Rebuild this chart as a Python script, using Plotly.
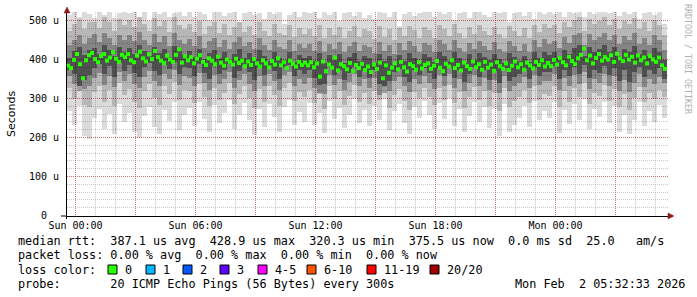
import plotly.graph_objects as go
import pandas as pd

# ---------------- data (microseconds) ----------------
# median RTT, one value every 9 minutes from Sat 23:33
median = [
    384, 378, 399, 414, 388, 352, 398, 411, 417, 401, 393, 409, 414, 397, 405, 419, 402, 394, 412, 406,
    414, 398, 393, 410, 420, 403, 395, 413, 401, 422, 406, 397, 391, 410, 400, 394, 412, 426, 392, 408,
    398, 406, 390, 402, 411, 394, 386, 403, 397, 388, 407, 392, 384, 400, 394, 387, 402, 391, 397, 383,
    395, 386, 401, 390, 382, 398, 390, 380, 396, 387, 403, 385, 393, 378, 397, 389, 382, 394, 386, 392,
    385, 393, 380, 390, 356, 395, 370, 387, 379, 405, 372, 388, 383, 375, 391, 370, 386, 378, 389, 373,
    382, 368, 387, 376, 392, 352, 385, 366, 379, 390, 375, 394, 380, 369, 388, 383, 374, 393, 377, 386,
    390, 376, 384, 396, 379, 370, 389, 382, 398, 378, 386, 372, 392, 383, 376, 395, 380, 388, 374, 394,
    379, 387, 371, 393, 383, 376, 390, 373, 384, 395, 380, 388, 374, 392, 385, 377, 394, 386, 398, 382,
    391, 383, 399, 387, 404, 393, 385, 407, 396, 388, 403, 412, 428, 398, 410, 390, 404, 414, 397, 406,
    400, 411, 394, 415, 403, 396, 412, 400, 407, 392, 410, 398, 405, 390, 409, 400, 394, 405, 385, 376,
]

# smoke bands, one value every 15 minutes from Sat 23:33 (lowest ping .. highest ping)
lo1 = [
    268, 232, 281, 205, 196, 251, 274, 222, 259, 210, 286, 241,
    262, 214, 200, 255, 279, 226, 208, 270, 243, 292, 219, 258,
    275, 229, 291, 247, 215, 283, 236, 264, 297, 221, 257, 288,
    244, 206, 272, 228, 286, 253, 214, 279, 295, 233, 266, 241,
    289, 231, 263, 212, 294, 248, 276, 225, 258, 298, 237, 270,
    229, 281, 246, 299, 218, 267, 287, 238, 209, 277, 250, 293,
    258, 221, 289, 247, 301, 230, 272, 213, 255, 291, 240, 279,
    224, 273, 205, 287, 214, 232, 251, 281, 228, 294, 244, 268,
    250, 292, 211, 270, 235, 287, 246, 299, 223, 273, 252, 290,
    236, 281, 214, 257, 208, 245, 290, 229, 268, 240, 284, 249,
]
lo2 = [
    326, 298, 333, 284, 279, 317, 331, 292, 322, 281, 340, 309,
    324, 290, 275, 319, 338, 301, 284, 331, 311, 343, 295, 322,
    319, 289, 336, 303, 280, 327, 297, 314, 341, 286, 311, 333,
    301, 276, 325, 292, 333, 309, 281, 328, 339, 294, 316, 303,
    322, 289, 311, 272, 331, 298, 318, 283, 307, 335, 290, 315,
    285, 318, 297, 329, 276, 308, 324, 293, 271, 316, 301, 327,
    305, 283, 326, 297, 334, 289, 317, 276, 304, 330, 296, 320,
    281, 313, 268, 327, 277, 293, 305, 322, 288, 332, 297, 311,
    306, 331, 279, 318, 292, 328, 303, 340, 285, 315, 307, 334,
    294, 325, 278, 311, 270, 302, 329, 290, 315, 299, 323, 305,
]
lo3 = [
    358, 336, 318, 325, 331, 352, 366, 334, 357, 329, 369, 345,
    362, 337, 326, 356, 371, 344, 331, 364, 349, 372, 334, 358,
    353, 331, 366, 340, 322, 361, 336, 350, 368, 327, 347, 362,
    337, 319, 357, 331, 363, 344, 323, 359, 367, 333, 350, 338,
    352, 328, 314, 312, 360, 335, 351, 322, 343, 362, 331, 349,
    327, 352, 309, 313, 320, 345, 356, 332, 316, 351, 336, 358,
    341, 324, 359, 333, 363, 328, 350, 318, 340, 360, 332, 352,
    322, 348, 315, 358, 319, 331, 340, 355, 326, 361, 334, 346,
    344, 363, 323, 352, 332, 360, 338, 368, 325, 349, 341, 362,
    333, 357, 320, 347, 316, 339, 362, 329, 350, 336, 355, 340,
]
lo4 = [
    374, 362, 333, 348, 360, 379, 388, 363, 383, 356, 391, 370,
    386, 365, 354, 381, 392, 371, 360, 387, 375, 393, 362, 380,
    377, 357, 388, 366, 350, 383, 362, 374, 389, 352, 370, 385,
    367, 348, 380, 359, 384, 370, 350, 381, 386, 358, 374, 364,
    373, 352, 334, 336, 380, 359, 372, 347, 366, 381, 355, 371,
    353, 374, 338, 333, 346, 368, 376, 355, 343, 373, 361, 378,
    365, 349, 378, 358, 382, 352, 372, 343, 364, 380, 356, 374,
    347, 371, 340, 378, 345, 356, 364, 376, 351, 380, 358, 369,
    368, 383, 349, 374, 357, 380, 363, 387, 352, 372, 366, 383,
    360, 379, 346, 372, 342, 367, 382, 355, 374, 362, 378, 350,
]
hi4 = [
    404, 421, 433, 412, 424, 430, 414, 436, 425, 409, 432, 418,
    430, 415, 437, 423, 409, 433, 417, 428, 406, 435, 421, 412,
    421, 406, 428, 401, 416, 424, 404, 419, 399, 413, 426, 405,
    416, 401, 424, 408, 397, 420, 405, 398, 418, 394, 412, 403,
    409, 396, 417, 390, 411, 398, 414, 392, 406, 416, 395, 408,
    404, 390, 414, 395, 408, 387, 412, 397, 416, 405, 391, 413,
    407, 394, 418, 409, 397, 420, 404, 392, 413, 400, 417, 406,
    398, 413, 401, 391, 416, 407, 396, 410, 393, 418, 404, 420,
    411, 418, 403, 425, 413, 430, 436, 408, 433, 420, 426, 437,
    419, 431, 410, 428, 420, 435, 413, 425, 408, 430, 419, 398,
]
hi3 = [
    436, 451, 462, 440, 456, 466, 444, 469, 455, 437, 463, 449,
    462, 447, 470, 451, 438, 466, 446, 459, 434, 468, 450, 441,
    452, 434, 459, 430, 447, 455, 432, 450, 427, 444, 457, 435,
    446, 428, 455, 436, 424, 451, 433, 426, 449, 421, 441, 430,
    439, 423, 448, 418, 441, 426, 444, 420, 434, 446, 422, 437,
    433, 416, 445, 421, 438, 414, 442, 425, 447, 435, 418, 443,
    436, 420, 449, 439, 424, 451, 430, 419, 443, 428, 448, 435,
    424, 444, 428, 418, 447, 434, 423, 440, 419, 449, 431, 452,
    440, 448, 430, 457, 443, 462, 468, 436, 465, 451, 458, 469,
    449, 463, 439, 459, 450, 467, 441, 456, 436, 462, 449, 425,
]
hi2 = [
    474, 491, 503, 478, 496, 507, 482, 509, 495, 472, 504, 488,
    502, 484, 510, 490, 473, 506, 485, 498, 470, 508, 489, 479,
    491, 470, 499, 466, 487, 495, 468, 490, 463, 483, 497, 471,
    485, 464, 495, 472, 460, 491, 469, 462, 489, 457, 480, 466,
    478, 459, 488, 454, 481, 462, 484, 456, 474, 486, 458, 477,
    472, 452, 485, 457, 478, 450, 482, 461, 487, 475, 454, 483,
    476, 456, 489, 479, 460, 491, 468, 455, 483, 466, 488, 474,
    462, 484, 466, 454, 487, 473, 459, 480, 455, 489, 470, 492,
    480, 488, 468, 497, 483, 502, 508, 474, 505, 491, 498, 509,
    489, 503, 477, 499, 490, 507, 479, 496, 472, 502, 489, 462,
]
hi1 = [
    515, 522, 508, 524, 517, 495, 521, 513, 524, 506, 519, 523,
    518, 524, 510, 521, 499, 523, 516, 524, 508, 520, 524, 512,
    522, 509, 524, 517, 502, 521, 524, 511, 519, 524, 497, 518,
    524, 513, 520, 505, 523, 517, 524, 492, 515, 522, 510, 524,
    519, 524, 507, 522, 514, 524, 498, 520, 524, 511, 521, 506,
    515, 503, 524, 518, 509, 523, 486, 517, 524, 512, 520, 524,
    522, 510, 524, 516, 524, 501, 519, 524, 507, 521, 524, 514,
    509, 524, 518, 523, 496, 520, 524, 512, 522, 505, 524, 517,
    524, 516, 522, 510, 524, 519, 524, 508, 523, 517, 524, 521,
    518, 524, 511, 522, 516, 524, 503, 520, 524, 513, 522, 490,
]

y_tick_vals = [0, 100, 200, 300, 400, 500]
y_tick_text = ["0  ", "100 u", "200 u", "300 u", "400 u", "500 u"]
x_tick_vals = ["2026-02-01 00:00", "2026-02-01 03:00", "2026-02-01 06:00", "2026-02-01 09:00",
               "2026-02-01 12:00", "2026-02-01 15:00", "2026-02-01 18:00", "2026-02-01 21:00",
               "2026-02-02 00:00", "2026-02-02 03:00"]
x_tick_text = ["Sun 00:00", "", "Sun 06:00", "", "Sun 12:00", "", "Sun 18:00", "", "Mon 00:00", ""]

stat_lines = [
    "median rtt:  387.1 us avg  428.9 us max  320.3 us min  375.5 us now  0.0 ms sd  25.0   am/s",
    "packet loss: 0.00 % avg  0.00 % max  0.00 % min  0.00 % now",
    "loss color:",
    "probe:       20 ICMP Echo Pings (56 Bytes) every 300s",
]
stamp = "Mon Feb  2 05:32:33 2026"
loss_labels = ["0", "1", "2", "3", "4-5", "6-10", "11-19", "20/20"]
loss_colors = ["#26ff00", "#00b8ff", "#0059ff", "#5e00ff", "#ff00ff", "#ff5500", "#ff0000", "#a10000"]

# ---------------- layout geometry ----------------
W, H = 697, 297
PL, PR, PT, PB = 67, 668, 12, 216


def px(x):
    return (x - PL) / (PR - PL)


def py(y):
    return (PB - y) / (PB - PT)


MONO = "DejaVu Sans Mono"

smoke_t = pd.date_range("2026-01-31 23:40:30", periods=len(lo1), freq="15min")
med_t = pd.date_range("2026-01-31 23:37:30", periods=len(median), freq="9min")

fig = go.Figure()
layers = [(lo1, hi1, 0.14), (lo2, hi2, 0.16), (lo3, hi3, 0.27), (lo4, hi4, 0.40)]
for lo, hi, a in layers:
    fig.add_trace(go.Bar(
        x=smoke_t, y=[h - l for h, l in zip(hi, lo)], base=lo,
        width=15 * 60 * 1000,
        marker=dict(color=f"rgba(0,0,0,{a})", line=dict(width=0)),
        hoverinfo="skip", showlegend=False,
    ))
fig.add_trace(go.Scatter(
    x=med_t, y=median, mode="markers",
    marker=dict(symbol="square", size=4, color=loss_colors[0], line=dict(width=0)),
    hoverinfo="skip", showlegend=False,
))

major_grid = "rgba(215,60,60,0.6)"
minor_grid = "rgba(150,150,150,0.5)"

fig.update_layout(
    width=W, height=H, autosize=False,
    margin=dict(l=PL, r=W - PR, t=PT, b=H - PB, pad=0),
    paper_bgcolor="white", plot_bgcolor="white",
    barmode="overlay", bargap=0,
    showlegend=False,
    xaxis=dict(
        type="date",
        range=["2026-01-31 23:34:30", "2026-02-02 05:37:30"],
        tickmode="array", tickvals=x_tick_vals, ticktext=x_tick_text,
        showgrid=True, gridcolor=major_grid, griddash="1px,1px", gridwidth=1,
        showline=True, linecolor="#000", linewidth=1,
        ticks="",
        tickfont=dict(family=MONO, size=10, color="#000"),
        minor=dict(tickmode="linear", tick0="2026-02-01 00:00", dtick=3600000,
                   showgrid=True, gridcolor=minor_grid, griddash="1px,1px", gridwidth=1,
                   ticks=""),
        zeroline=False, fixedrange=True,
    ),
    yaxis=dict(
        range=[-1.28, 521.8],
        tickmode="array", tickvals=y_tick_vals, ticktext=[t.replace(" ", "\u00a0") for t in y_tick_text],
        showgrid=True, gridcolor=major_grid, griddash="1px,1px", gridwidth=1,
        showline=True, linecolor="#000", linewidth=1,
        ticks="", ticklabelstandoff=5,
        tickfont=dict(family=MONO, size=10, color="#000"),
        minor=dict(tickmode="linear", tick0=0, dtick=20,
                   showgrid=True, gridcolor=minor_grid, griddash="1px,1px", gridwidth=1,
                   ticks=""),
        zeroline=False, fixedrange=True,
    ),
)

annotations = []
line_y = [241, 255, 269.5, 283.5]
for txt, yy in zip(stat_lines, line_y):
    annotations.append(dict(
        text=txt.replace(" ", "\u00a0"), xref="paper", yref="paper",
        x=px(16), y=py(yy), xanchor="left", yanchor="middle", showarrow=False,
        font=dict(family=MONO, size=11.8, color="#000"),
    ))
annotations.append(dict(
    text=stamp.replace(" ", "\u00a0"), xref="paper", yref="paper",
    x=px(512.5), y=py(283.5), xanchor="left", yanchor="middle", showarrow=False,
    font=dict(family=MONO, size=11.8, color="#000"),
))
annotations.append(dict(
    text="Seconds", xref="paper", yref="paper", x=px(11), y=py(114),
    xanchor="center", yanchor="middle", textangle=-90, showarrow=False,
    font=dict(family="DejaVu Sans", size=11, color="#000"),
))
annotations.append(dict(
    text="RRDTOOL / TOBI OETIKER".replace(" ", "\u00a0"), xref="paper", yref="paper",
    x=px(688), y=py(59), xanchor="center", yanchor="middle", textangle=90, showarrow=False,
    font=dict(family=MONO, size=8.3, color="#b0b0b0"),
))

shapes = []
box_x = [108, 146, 183, 220, 258, 307, 367, 430]
for bx, lab, col in zip(box_x, loss_labels, loss_colors):
    shapes.append(dict(type="rect", xref="paper", yref="paper",
                       x0=px(bx), x1=px(bx + 9), y0=py(274), y1=py(265),
                       fillcolor=col, line=dict(color="#000", width=1)))
    annotations.append(dict(
        text=lab, xref="paper", yref="paper", x=px(bx + 15), y=py(269.5),
        xanchor="left", yanchor="middle", showarrow=False,
        font=dict(family=MONO, size=11.8, color="#000"),
    ))

# small axis extensions past the origin, as rrdtool draws them
shapes.append(dict(type="line", xref="paper", yref="paper",
                   x0=px(61), x1=px(67), y0=py(216), y1=py(216),
                   line=dict(color="#000", width=1)))
shapes.append(dict(type="line", xref="paper", yref="paper",
                   x0=px(66.5), x1=px(66.5), y0=py(216), y1=py(219),
                   line=dict(color="#000", width=1)))

arrow_col = "#8b1a1a"
shapes.append(dict(type="path", xref="paper", yref="paper",
                   path=f"M {px(64)},{py(13)} L {px(67)},{py(7)} L {px(70)},{py(13)} Z",
                   fillcolor=arrow_col, line=dict(color=arrow_col, width=0.5)))
shapes.append(dict(type="path", xref="paper", yref="paper",
                   path=f"M {px(668)},{py(213)} L {px(674)},{py(216)} L {px(668)},{py(219)} Z",
                   fillcolor=arrow_col, line=dict(color=arrow_col, width=0.5)))

fig.update_layout(annotations=annotations, shapes=shapes)

fig.write_html("out.html")
